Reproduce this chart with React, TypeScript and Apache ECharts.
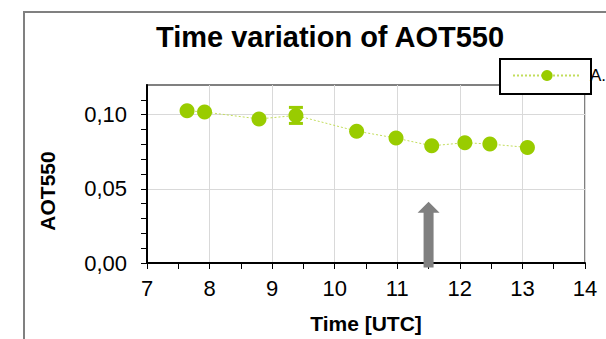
import React, { useEffect, useRef } from "react";
import * as echarts from "echarts";

const times = [7.64, 7.92, 8.79, 9.38, 10.35, 10.98, 11.55, 12.08, 12.48, 13.08];
const aot = [0.1027, 0.1018, 0.0971, 0.0995, 0.0889, 0.0842, 0.079, 0.0811, 0.0802, 0.0779];
const aotErr = [0, 0, 0, 0.0054, 0, 0, 0, 0, 0, 0];
const arrowTime = [11.5];
const arrowTop = [0.0413];
const seriesName = "A.";
const titleText = "Time variation of AOT550";
const xName = "Time [UTC]";
const yName = "AOT550";

const FONT = "'Liberation Sans', Arial, sans-serif";

export default function App() {
  const ref = useRef<HTMLDivElement>(null);
  useEffect(() => {
    if (!ref.current) return;
    const chart = echarts.init(ref.current, null, { renderer: "svg" });
    const option: any = {
      animation: false,
      backgroundColor: "#ffffff",
      textStyle: { fontFamily: FONT },
      title: {
        text: titleText,
        left: 156,
        top: 22,
        padding: 0,
        textStyle: { fontSize: 29, fontWeight: "bold", color: "#000", fontFamily: FONT },
      },
      legend: {
        data: [seriesName],
        left: 512,
        top: 67,
        padding: 0,
        itemWidth: 68,
        itemHeight: 14,
        itemGap: 0,
        z: 6,
        textStyle: { fontSize: 17, color: "#000", fontFamily: FONT, padding: [0, 0, 0, 4] },
      },
      graphic: [
        {
          type: "rect",
          z: -10,
          shape: { x: 24, y: 12, width: 800, height: 500 },
          style: { fill: "none", stroke: "#808080", lineWidth: 2 },
        },
        {
          type: "rect",
          z: 5,
          shape: { x: 500, y: 59, width: 91, height: 35 },
          style: { fill: "#ffffff", stroke: "#000000", lineWidth: 2 },
        },
        {
          type: "text",
          x: 47,
          y: 191,
          rotation: Math.PI / 2,
          style: {
            text: yName,
            fontSize: 21,
            fontWeight: "bold",
            fontFamily: FONT,
            fill: "#000",
            align: "center",
            verticalAlign: "middle",
          },
        },
      ],
      grid: {
        left: 147,
        right: 21,
        top: 85,
        bottom: 73.5,
        show: true,
        borderColor: "#808080",
        borderWidth: 2,
      },
      xAxis: {
        type: "value",
        min: 7,
        max: 14,
        interval: 0.5,
        name: xName,
        nameLocation: "middle",
        nameGap: 50,
        nameTextStyle: { fontSize: 21, fontWeight: "bold", color: "#000", fontFamily: FONT },
        axisLine: { show: true, onZero: false, lineStyle: { color: "#000", width: 2 } },
        axisTick: { show: true, inside: false, length: 6, lineStyle: { color: "#000", width: 1 } },
        axisLabel: {
          fontSize: 22,
          color: "#000",
          fontFamily: FONT,
          margin: 14,
          formatter: (v: number) => (Math.abs(v - Math.round(v)) < 1e-6 ? String(Math.round(v)) : ""),
        },
        splitLine: {
          show: true,
          lineStyle: { color: ["#d9d9d9", "rgba(0,0,0,0)"], width: 1 },
        },
      },
      yAxis: {
        type: "value",
        min: 0,
        max: 0.12,
        interval: 0.01,
        axisLine: { show: true, onZero: false, lineStyle: { color: "#000", width: 2 } },
        axisTick: { show: true, inside: false, length: 6, lineStyle: { color: "#000", width: 1 } },
        axisLabel: {
          fontSize: 22,
          color: "#000",
          fontFamily: FONT,
          margin: 20,
          showMaxLabel: false,
          formatter: (v: number) => {
            const k = Math.round(v * 100);
            return k % 5 === 0 && k < 12 ? (k / 100).toFixed(2).replace(".", ",") : "";
          },
        },
        splitLine: {
          show: true,
          lineStyle: {
            color: ["#d9d9d9", "rgba(0,0,0,0)", "rgba(0,0,0,0)", "rgba(0,0,0,0)", "rgba(0,0,0,0)"],
            width: 1,
          },
        },
      },
      series: [
        {
          type: "custom",
          name: "arrow",
          clip: false,
          silent: true,
          z: 1,
          data: arrowTime.map((t, i) => [t, arrowTop[i]]),
          renderItem: (params: any, api: any) => {
            const top = api.coord([api.value(0), api.value(1)]);
            const base = api.coord([api.value(0), 0]);
            const cx = top[0];
            const sw = 5;
            const hw = 11;
            const hh = 11;
            const bottom = base[1] + 4.5;
            return {
              type: "polygon",
              shape: {
                points: [
                  [cx, top[1]],
                  [cx + hw, top[1] + hh],
                  [cx + sw, top[1] + hh],
                  [cx + sw, bottom],
                  [cx - sw, bottom],
                  [cx - sw, top[1] + hh],
                  [cx - hw, top[1] + hh],
                ],
              },
              style: { fill: "#808080" },
            };
          },
        },
        {
          type: "custom",
          name: "err",
          silent: true,
          z: 3,
          data: times
            .map((t, i) => [t, aot[i], aotErr[i]])
            .filter((d) => d[2] > 0),
          renderItem: (params: any, api: any) => {
            const x = api.value(0);
            const y = api.value(1);
            const e = api.value(2);
            const hi = api.coord([x, y + e]);
            const lo = api.coord([x, y - e]);
            const cw = 7;
            const st = { stroke: "#99cc00", lineWidth: 3 };
            return {
              type: "group",
              children: [
                { type: "line", shape: { x1: hi[0], y1: hi[1], x2: lo[0], y2: lo[1] }, style: st },
                { type: "line", shape: { x1: hi[0] - cw, y1: hi[1], x2: hi[0] + cw, y2: hi[1] }, style: st },
                { type: "line", shape: { x1: lo[0] - cw, y1: lo[1], x2: lo[0] + cw, y2: lo[1] }, style: st },
              ],
            };
          },
        },
        {
          type: "line",
          name: seriesName,
          z: 4,
          data: times.map((t, i) => [t, aot[i]]),
          symbol: "circle",
          symbolSize: 15,
          showSymbol: true,
          itemStyle: { color: "#99cc00", borderWidth: 0 },
          lineStyle: { color: "#c2dd5c", width: 1, type: [2, 2] },
        },
      ],
    };
    chart.setOption(option);
    return () => chart.dispose();
  }, []);
  return (
    <div
      ref={ref}
      style={{ position: "fixed", left: 0, top: 0, width: 606, height: 339 }}
    />
  );
}
